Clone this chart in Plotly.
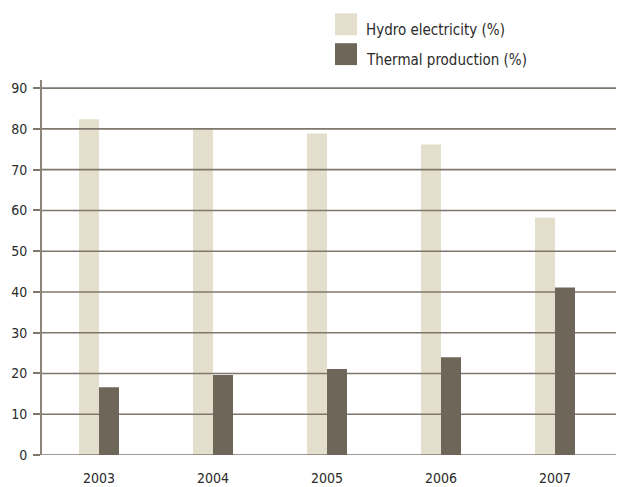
import plotly.graph_objects as go

# Share of electricity generation by source
years = ["2003", "2004", "2005", "2006", "2007"]
hydro_pct = [82.4, 80.2, 78.9, 76.2, 58.2]
thermal_pct = [16.6, 19.6, 21.1, 24.0, 41.1]
y_ticks = [0, 10, 20, 30, 40, 50, 60, 70, 80, 90]
series_names = ["Hydro electricity (%)", "Thermal production (%)"]

HYDRO = "#e4dfcc"
THERMAL = "#6e6659"
GRID = "#7f776d"
AXIS = "#8c8379"
TEXT = "#2a2a2a"
FONT = "DejaVu Sans Condensed, Liberation Sans Narrow, Arial Narrow, sans-serif"

W, H = 617, 487
ML, MR, MT, MB = 42, 1, 80, 30
Y_MAX = 92
X_RANGE = [-0.5, 4.535]
BAR_W = 0.1754

fig = go.Figure()

# hydro bars sit in the base subplot, below the grid lines
fig.add_trace(go.Bar(
    x=years, y=hydro_pct, name=series_names[0],
    marker=dict(color=HYDRO, line=dict(width=0)),
    width=BAR_W, offset=-BAR_W, xaxis="x", yaxis="y",
    showlegend=False, hoverinfo="x+y",
))

# horizontal grid lines, drawn in an overlay so they cover the hydro bars
gx, gy = [], []
for t in y_ticks:
    gx += [0, 1, None]
    gy += [t, t, None]
fig.add_trace(go.Scatter(
    x=gx, y=gy, mode="lines", line=dict(color=GRID, width=1.6),
    xaxis="x2", yaxis="y", showlegend=False, hoverinfo="skip",
))

# thermal bars in a further overlay, above the grid lines
fig.add_trace(go.Bar(
    x=years, y=thermal_pct, name=series_names[1],
    marker=dict(color=THERMAL, line=dict(width=0)),
    width=BAR_W, offset=0, xaxis="x3", yaxis="y",
    showlegend=False, hoverinfo="x+y",
))

cat_axis = dict(
    type="category", categoryorder="array", categoryarray=years,
    range=X_RANGE, showgrid=False, zeroline=False, showline=False,
    ticks="",
)
fig.update_layout(
    width=W, height=H,
    margin=dict(l=ML, r=MR, t=MT, b=MB),
    paper_bgcolor="white", plot_bgcolor="white",
    font=dict(family=FONT, size=14, color=TEXT),
    showlegend=False,
    xaxis=dict(**cat_axis, showticklabels=True, ticklabelstandoff=13,
               tickfont=dict(family=FONT, size=14, color=TEXT)),
    xaxis2=dict(overlaying="x", range=[0, 1], visible=False, fixedrange=True),
    xaxis3=dict(**cat_axis, overlaying="x", showticklabels=False),
    yaxis=dict(
        range=[0, Y_MAX], tickvals=y_ticks, showgrid=False, zeroline=False,
        showline=True, linecolor=AXIS, linewidth=2,
        ticks="outside", ticklen=7, tickwidth=1.6, tickcolor=GRID,
        ticklabelstandoff=3,
        tickfont=dict(family=FONT, size=14, color=TEXT),
    ),
)

# legend: large swatches with labels, placed in pixel terms of the page
def px_to_paper_x(px):
    return (px - ML) / (W - ML - MR)

def px_to_paper_y(py):
    return (H - MB - py) / (H - MT - MB)

legend_rows = [(13, HYDRO), (43, THERMAL)]
for (top, color), label in zip(legend_rows, series_names):
    fig.add_shape(
        type="rect", xref="paper", yref="paper",
        x0=px_to_paper_x(335), x1=px_to_paper_x(357),
        y0=px_to_paper_y(top + 22), y1=px_to_paper_y(top),
        fillcolor=color, line=dict(width=0), layer="above",
    )
    fig.add_annotation(
        xref="paper", yref="paper",
        x=px_to_paper_x(364), y=px_to_paper_y(top + 17),
        xanchor="left", yanchor="middle", showarrow=False,
        text=label, font=dict(family=FONT, size=15, color=TEXT),
    )

fig.write_html("out.html")
